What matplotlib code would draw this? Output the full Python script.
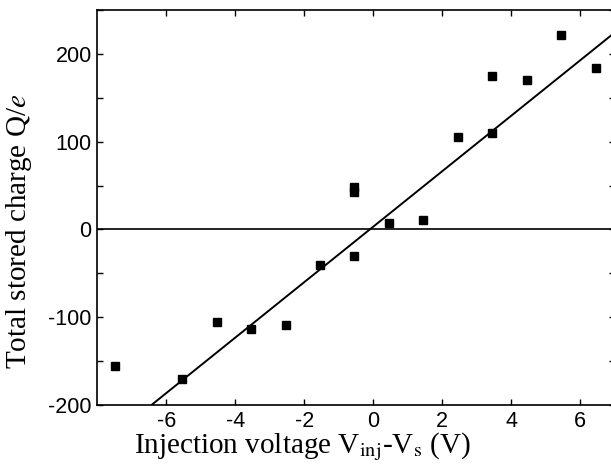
import matplotlib
matplotlib.use("Agg")
from matplotlib import pyplot as plt
import numpy as np

# measured points (injection voltage, stored charge)
voltage = [-7.5, -5.54, -4.54, -3.54, -2.53, -1.54, -0.55, -0.55, -0.55,
           0.45, 1.43, 2.45, 3.43, 3.45, 4.45, 5.44, 6.45]
charge = [-156, -170, -105, -113, -109, -40, -30, 43, 48,
          7, 11, 105, 110, 175, 170, 221, 184]

# linear fit
fit_slope = 31.6
fit_intercept = 3.2

x_ticks = [-6, -4, -2, 0, 2, 4, 6]
y_ticks = [-200, -100, 0, 100, 200]
y_minor = [-150, -50, 50, 150, 250]

plt.rcParams['mathtext.fontset'] = 'stix'

fig = plt.figure(figsize=(6.11, 4.69), dpi=100)
W, H = 611, 469
left, right, top, bottom = 97.3, 614.8, 10, 405
ax = fig.add_axes([left / W, 1 - bottom / H, (right - left) / W, (bottom - top) / H])

xs = np.array([-8, 7])
ax.plot(xs, fit_slope * xs + fit_intercept, color='black', lw=1.4)
ax.axhline(0, color='black', lw=1.2)
ax.plot(voltage, charge, 's', color='black', ms=5.2, ls='none')

ax.set_xlim(-8, 7)
ax.set_ylim(-200, 250)
ax.set_xticks(x_ticks)
ax.set_xticklabels([str(t) for t in x_ticks])
ax.set_yticks(y_ticks)
ax.set_yticklabels([str(t) for t in y_ticks])
ax.set_yticks(y_minor, minor=True)

for s in ax.spines.values():
    s.set_linewidth(1.2)

ax.tick_params(which='both', direction='in', top=True, right=True,
               length=4, width=1.0, labelsize=15.5, pad=4)
for lab in ax.get_xticklabels() + ax.get_yticklabels():
    lab.set_family('Liberation Sans')

ax.set_xlabel(r'Injection voltage V$_{\rm inj}$-V$_{\rm s}$ (V)',
              family='Liberation Serif', fontsize=21)
ax.set_ylabel(r'Total stored charge Q/$e$',
              family='Liberation Serif', fontsize=21)
ax.xaxis.set_label_coords(0.396, -0.064)
ax.yaxis.set_label_coords(-0.122, 0.44)

fig.savefig("out.png", dpi=100)
